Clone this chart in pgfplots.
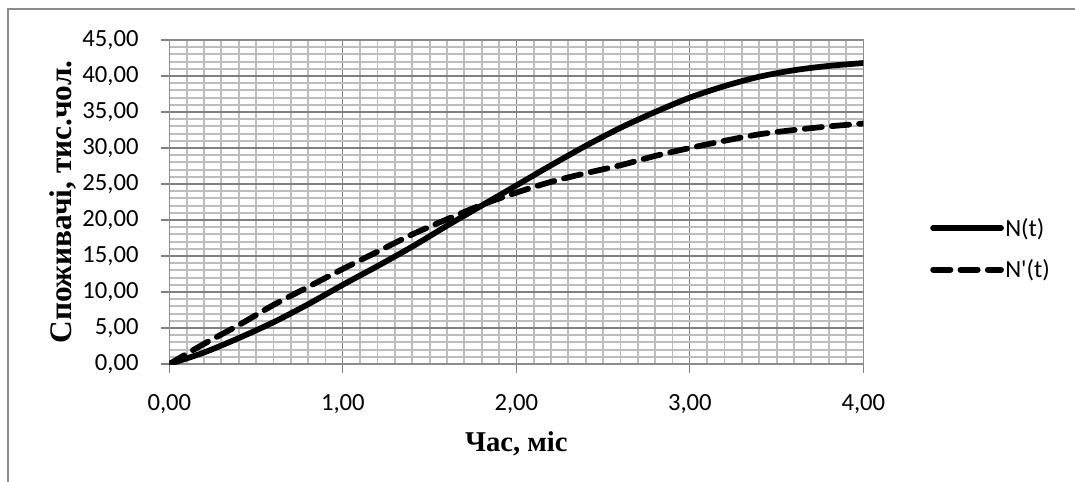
\documentclass[border=0pt]{standalone}
\usepackage{pgfplots}
\pgfplotsset{compat=1.18}
\usepackage{fontspec}
\setmainfont{Carlito}[Ligatures=TeXOff]
\newfontfamily\tnr{Liberation Serif}
\pgfkeys{/pgf/number format/.cd, fixed, fixed zerofill, precision=2, use comma, assume math mode=true}
\begin{document}
\begin{tikzpicture}
\useasboundingbox (0,0) rectangle (806.25pt,361.5pt);
\draw[black!45, line width=0.9pt] (6pt,-2pt) -- (6pt,354.75pt) -- (808pt,354.75pt);
\begin{axis}[
 scale only axis, width=520.5pt, height=243pt,
 at={(127pt,88.5pt)}, anchor=south west,
 xmin=0, xmax=4, ymin=0, ymax=45,
 xtick={0,1,2,3,4}, ytick={0,5,...,45},
 minor x tick num=9, minor y tick num=4,
 grid=both,
 major grid style={color=black!50, line width=0.9pt},
 minor grid style={color=black!26, line width=1.4pt},
 axis line style={black!45, line width=0.9pt},
 tick style={black!50, line width=0.9pt},
 tick align=outside, major tick length=6.5pt, minor tick length=0pt,
 xtick pos=left, ytick pos=left,
 xticklabel style={font=\fontsize{18.5}{20}\selectfont, anchor=north, yshift=-13pt},
 yticklabel style={font=\fontsize{18.5}{20}\selectfont, anchor=east, xshift=-13pt},
 xlabel={\tnr\bfseries Час, міс},
 ylabel={\tnr\bfseries Споживачі, тис.чол.},
 xlabel style={font=\fontsize{21.5}{24}\selectfont, at={(axis description cs:0.5,-0.245)}, anchor=center},
 ylabel style={font=\fontsize{23.5}{26}\selectfont, at={(axis description cs:-0.153,0.5)}, anchor=center},
 legend style={at={(axis description cs:1.096,0.355)}, anchor=west, draw=none, fill=none,
   inner sep=0pt, font=\fontsize{18.5}{20}\selectfont, row sep=14pt,
   nodes={inner sep=1pt}},
 legend cell align=left,
 legend image code/.code={\draw[#1] (0pt,0pt) -- (51pt,0pt);},
]
\addplot[black, line width=4.3pt, line cap=round, smooth] coordinates {
(0,0) (0.2,1.6) (0.4,3.6) (0.6,5.8) (0.8,8.3) (1.0,11.0) (1.2,13.6) (1.4,16.3)
(1.6,19.2) (1.8,22.0) (2.0,24.8) (2.2,27.6) (2.4,30.3) (2.6,32.8) (2.8,35.0)
(3.0,37.0) (3.2,38.6) (3.4,39.9) (3.6,40.8) (3.8,41.4) (4.0,41.8)};
\addlegendentry{N(t)}
\addplot[black, line width=4.3pt, line cap=round, dash pattern=on 13pt off 7.5pt, smooth] coordinates {
(0,0) (0.2,2.8) (0.4,5.4) (0.6,8.2) (0.8,10.7) (1.0,13.2) (1.2,15.6) (1.4,18.0)
(1.6,20.1) (1.8,22.1) (2.0,23.8) (2.2,25.3) (2.4,26.5) (2.6,27.6) (2.8,28.9)
(3.0,30.0) (3.2,31.0) (3.4,31.9) (3.6,32.5) (3.8,33.0) (4.0,33.4)};
\addlegendentry{N'(t)}
\end{axis}
\end{tikzpicture}
\end{document}
